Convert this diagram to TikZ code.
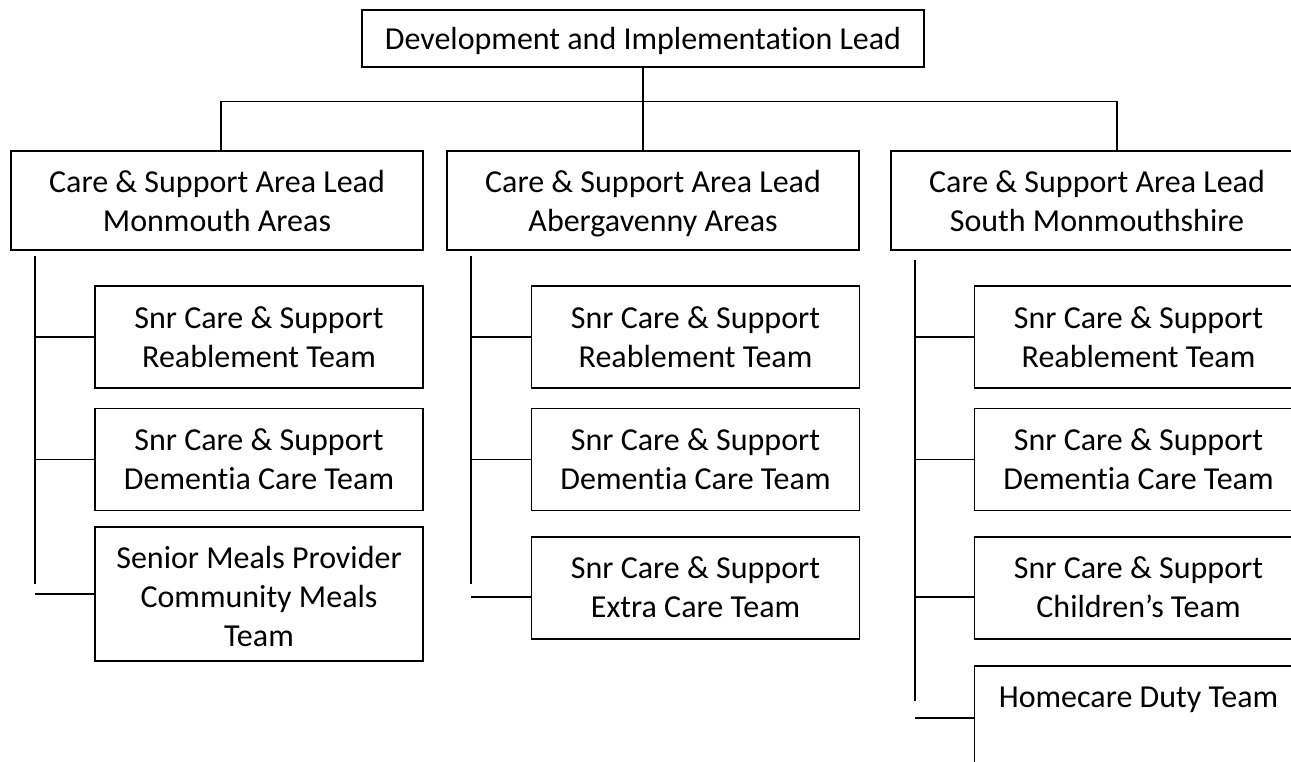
\documentclass[tikz,border=0pt]{standalone}
\usepackage{fontspec}
\setmainfont{Carlito}[Ligatures=NoCommon]
\usepackage{tikz}
\tikzset{font=\fontsize{32}{39}\selectfont,
  box/.style={draw,line width=1.5pt,align=center,inner sep=0pt,minimum width=328pt,minimum height=102pt,
    text height=60pt,text depth=0pt},
  area/.style={box,minimum width=412pt,minimum height=99pt,text height=63pt}}

\begin{document}
\begin{tikzpicture}[x=1pt,y=-1pt,line width=1.5pt]
\useasboundingbox (0,0) rectangle (1291,762);
\clip (0,0) rectangle (1291,762);
\node[box,minimum width=562pt,minimum height=57pt,text height=23pt] (D) at (643,38.5) {Development and Implementation Lead};
\node[area] (M) at (217,200.5) {Care \& Support Area Lead\\Monmouth Areas};
\node[area] (A) at (653,200.5) {Care \& Support Area Lead\\Abergavenny Areas};
\node[area] (S) at (1097,200.5) {Care \& Support Area Lead\\South Monmouthshire};
% Monmouth
\node[box] (M1) at (259,337) {Snr Care \& Support\\Reablement Team};
\node[box] (M2) at (259,459.5) {Snr Care \& Support\\Dementia Care Team};
\node[box,minimum height=134pt,text height=104pt] (M3) at (259,594) {Senior Meals Provider\\Community Meals\\Team};
% Abergavenny
\node[box] (A1) at (695.5,337) {Snr Care \& Support\\Reablement Team};
\node[box] (A2) at (695.5,459.5) {Snr Care \& Support\\Dementia Care Team};
\node[box,text height=58pt] (A3) at (695.5,588) {Snr Care \& Support\\Extra Care Team};
% South Monmouthshire
\node[box] (S1) at (1138.5,337) {Snr Care \& Support\\Reablement Team};
\node[box] (S2) at (1138.5,459.5) {Snr Care \& Support\\Dementia Care Team};
\node[box,text height=58pt] (S3) at (1138.5,588) {Snr Care \& Support\\Children’s Team};
\node[box,minimum height=140pt,text height=98pt] (S4) at (1138.5,736) {Homecare Duty Team\\~\\~};

% top bar
\coordinate (BL) at (221,101.7);
\coordinate (BR) at (1117,101.7);
\draw (D.south) -- (D.south |- A.north);
\draw (BL |- M.north) -- (BL) -- (BR) -- (BR |- S.north);

% trunks
\coordinate (MT) at (35,256);
\coordinate (MB) at (35,584);
\coordinate (AT) at (471,256);
\coordinate (AB) at (471,584);
\coordinate (ST) at (915,260);
\coordinate (SB) at (915,701);
\draw (MT) -- (MB);
\draw (AT) -- (AB);
\draw (ST) -- (SB);
\path ([yshift=-9pt]A3.west) coordinate (A3c);
\path ([yshift=-9pt]S3.west) coordinate (S3c);
\path ([yshift=18pt]S4.west) coordinate (S4c);
\draw (MT |- M1.west) -- (M1.west);
\draw (MT |- M2.west) -- (M2.west);
\draw (MT |- M3.west) -- (M3.west);
\draw (AT |- A1.west) -- (A1.west);
\draw (AT |- A2.west) -- (A2.west);
\draw (AT |- A3c) -- (A3c);
\draw (ST |- S1.west) -- (S1.west);
\draw (ST |- S2.west) -- (S2.west);
\draw (ST |- S3c) -- (S3c);
\draw (ST |- S4c) -- (S4c);
\end{tikzpicture}
\end{document}
